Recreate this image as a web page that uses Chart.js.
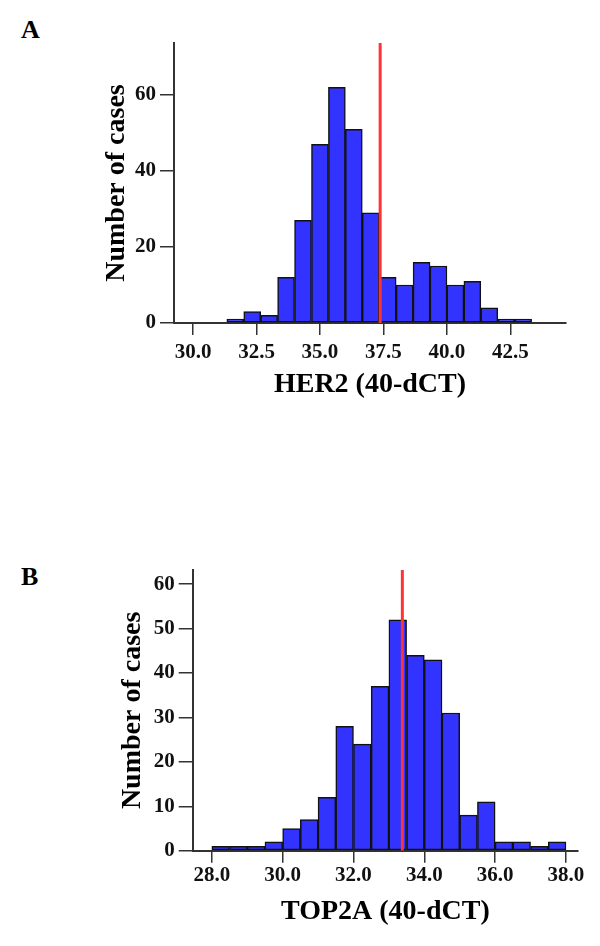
<!DOCTYPE html>
<html>
<head>
<meta charset="utf-8">
<script src="https://cdn.jsdelivr.net/npm/chart.js@4.4.0/dist/chart.umd.min.js"></script>
<style>
  body { margin: 0; background: #fff; width: 600px; height: 946px; position: relative; overflow: hidden; }
  canvas { position: absolute; left: 0; }
  #chartA { top: 0; }
  #chartB { top: 540px; }
  .panel { position: absolute; left: 21px; font: bold 26px "Liberation Serif", serif; color: #000; }
</style>
</head>
<body>
<div class="panel" style="top: 15px;">A</div>
<div class="panel" style="top: 562px;">B</div>
<canvas id="chartA" width="600" height="420"></canvas>
<canvas id="chartB" width="600" height="406"></canvas>
<script>
// --- Panel A: HER2 ---
const herBinStart = 31.33;
const herBinWidth = 0.667;
const herCounts = [1, 3, 2, 12, 27, 47, 62, 51, 29, 12, 10, 16, 15, 10, 11, 4, 1, 1];
const herCutoff = 37.37;
const herXTicks = [30.0, 32.5, 35.0, 37.5, 40.0, 42.5];
const herYTicks = [0, 20, 40, 60];

// --- Panel B: TOP2A ---
const topBinStart = 28.0;
const topBinWidth = 0.5;
const topCounts = [1, 1, 1, 2, 5, 7, 12, 28, 24, 37, 52, 44, 43, 31, 8, 11, 2, 2, 1, 2];
const topCutoff = 33.38;
const topXTicks = [28.0, 30.0, 32.0, 34.0, 36.0, 38.0];
const topYTicks = [0, 10, 20, 30, 40, 50, 60];

Chart.defaults.font.family = '"Liberation Serif", "Times New Roman", serif';
Chart.defaults.color = '#111';

const AXIS = '#333';

function makeHist(id, cfg) {
  const bars = cfg.counts.map((c, i) => ({ x: cfg.binStart + (i + 0.5) * cfg.binWidth, y: c }));
  new Chart(document.getElementById(id), {
    type: 'bar',
    data: {
      datasets: [
        {
          type: 'line',
          data: [{ x: cfg.cutoff, y: 0 }, { x: cfg.cutoff, y: cfg.yMax }],
          borderColor: '#ff3333',
          borderWidth: 3,
          pointRadius: 0,
          order: 0
        },
        {
          data: bars,
          backgroundColor: '#3333ff',
          borderColor: '#111',
          borderWidth: 1.5,
          borderSkipped: false,
          barPercentage: 1,
          categoryPercentage: 1,
          order: 1
        }
      ]
    },
    options: {
      responsive: false,
      animation: false,
      layout: { padding: cfg.padding },
      plugins: { legend: { display: false }, tooltip: { enabled: false } },
      scales: {
        x: {
          type: 'linear',
          min: cfg.xMin,
          max: cfg.xMax,
          offset: false,
          afterBuildTicks: s => { s.ticks = cfg.xTicks.map(v => ({ value: v })); },
          afterFit: s => { s.height = cfg.xAxisH; },
          ticks: {
            font: { size: 21, weight: 'bold' },
            padding: cfg.xTickPad,
            maxRotation: 0,
            callback: v => v.toFixed(1)
          },
          grid: { offset: false, drawOnChartArea: false, drawTicks: true, tickLength: 12, color: AXIS, lineWidth: 1.5 },
          border: { display: true, color: AXIS, width: 2 },
          title: {
            display: true,
            text: cfg.xTitle,
            font: { size: 28, weight: 'bold' },
            color: '#000',
            padding: { top: 0, bottom: cfg.xTitlePad }
          }
        },
        y: {
          min: 0,
          max: cfg.yMax,
          afterBuildTicks: s => { s.ticks = cfg.yTicks.map(v => ({ value: v })); },
          afterFit: s => { s.width = cfg.yAxisW; },
          ticks: { font: { size: 21, weight: 'bold' }, padding: 4 },
          grid: { drawOnChartArea: false, drawTicks: true, tickLength: 14, color: AXIS, lineWidth: 1.5 },
          border: { display: true, color: AXIS, width: 2 },
          title: {
            display: true,
            text: 'Number of cases',
            font: { size: 28, weight: 'bold' },
            color: '#000',
            padding: { top: cfg.yTitlePad, bottom: 0 }
          }
        }
      }
    }
  });
}

makeHist('chartA', {
  counts: herCounts, binStart: herBinStart, binWidth: herBinWidth, cutoff: herCutoff,
  xTicks: herXTicks, yTicks: herYTicks, xTitle: 'HER2 (40-dCT)',
  xMin: 29.25, xMax: 44.69, yMax: 73.7,
  padding: { left: 0, right: 34, top: 43, bottom: 0 },
  xAxisH: 97, yAxisW: 174, xTickPad: 5, xTitlePad: 18, yTitlePad: 100
});

makeHist('chartB', {
  counts: topCounts, binStart: topBinStart, binWidth: topBinWidth, cutoff: topCutoff,
  xTicks: topXTicks, yTicks: topYTicks, xTitle: 'TOP2A (40-dCT)',
  xMin: 27.46, xMax: 38.34, yMax: 63.2,
  padding: { left: 0, right: 22, top: 30, bottom: 0 },
  xAxisH: 95.3, yAxisW: 192.7, xTickPad: 0, xTitlePad: 17, yTitlePad: 116
});
</script>
</body>
</html>
